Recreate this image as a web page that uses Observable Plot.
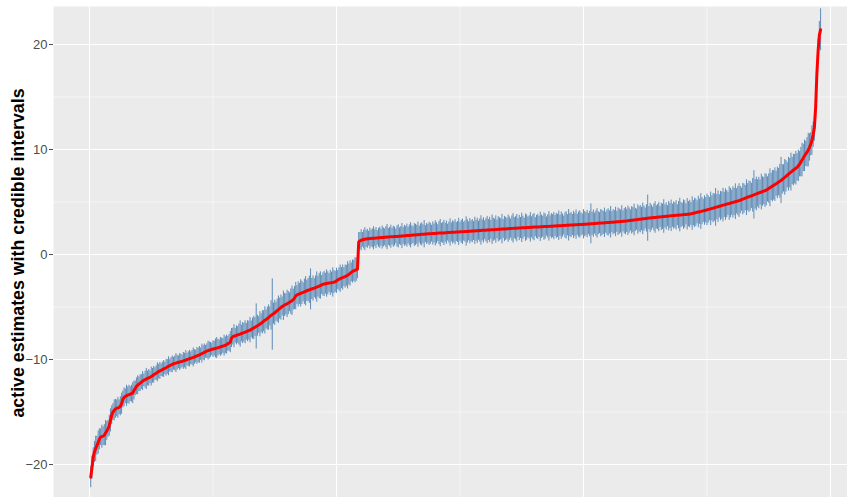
<!DOCTYPE html>
<html>
<head>
<meta charset="utf-8">
<script src="https://cdn.jsdelivr.net/npm/d3@7"></script>
<script src="https://cdn.jsdelivr.net/npm/@observablehq/plot@0.6"></script>
<style>
  html, body { margin: 0; padding: 0; background: white; }
</style>
</head>
<body>
<div id="chart"></div>
<script>
// Posterior estimates (sorted)
const est = [
-21.2,-20.3,-19.3,-18.8,-18.5,-18.2,-17.9,-17.6,-17.4,-17.35,
-17.3,-17.2,-17.0,-16.8,-16.6,-16.3,-15.8,-15.3,-15.0,-14.85,
-14.7,-14.65,-14.6,-14.55,-14.45,-14.2,-13.8,-13.6,-13.5,-13.45,
-13.4,-13.35,-13.3,-13.25,-13.2,-12.95,-12.75,-12.55,-12.45,-12.35,
-12.25,-12.15,-12.05,-11.98,-11.92,-11.85,-11.8,-11.75,-11.7,-11.62,
-11.55,-11.45,-11.38,-11.3,-11.22,-11.15,-11.08,-11.02,-10.96,-10.9,
-10.85,-10.78,-10.7,-10.64,-10.58,-10.52,-10.46,-10.4,-10.37,-10.34,
-10.3,-10.26,-10.23,-10.2,-10.17,-10.13,-10.1,-10.05,-10.0,-9.96,
-9.92,-9.88,-9.84,-9.8,-9.76,-9.71,-9.66,-9.61,-9.56,-9.5,
-9.44,-9.38,-9.32,-9.26,-9.2,-9.16,-9.12,-9.08,-9.04,-9.0,
-8.97,-8.94,-8.91,-8.88,-8.84,-8.8,-8.76,-8.72,-8.68,-8.64,
-8.58,-8.5,-8.42,-8.35,-7.95,-7.82,-7.78,-7.74,-7.7,-7.66,
-7.62,-7.57,-7.52,-7.48,-7.44,-7.4,-7.35,-7.3,-7.25,-7.2,
-7.13,-7.06,-6.99,-6.92,-6.85,-6.78,-6.71,-6.64,-6.55,-6.46,
-6.35,-6.27,-6.18,-6.1,-6.0,-5.9,-5.8,-5.72,-5.63,-5.55,
-5.45,-5.35,-5.25,-5.15,-5.05,-4.95,-4.88,-4.8,-4.75,-4.7,
-4.62,-4.55,-4.48,-4.4,-4.3,-4.15,-3.95,-3.85,-3.8,-3.75,
-3.7,-3.65,-3.6,-3.55,-3.5,-3.45,-3.4,-3.36,-3.32,-3.28,
-3.24,-3.2,-3.15,-3.1,-3.05,-3.0,-2.95,-2.9,-2.85,-2.8,
-2.78,-2.76,-2.74,-2.72,-2.7,-2.68,-2.66,-2.63,-2.6,-2.5,
-2.42,-2.36,-2.3,-2.25,-2.2,-2.15,-2.1,-2.03,-1.98,-1.9,
-1.8,-1.7,-1.62,-1.56,-1.5,-1.45,-1.4,1.2,1.3,1.36,
1.4,1.43,1.46,1.48,1.5,1.51,1.52,1.53,1.54,1.55,
1.56,1.57,1.58,1.59,1.6,1.61,1.62,1.63,1.64,1.65,
1.66,1.67,1.68,1.69,1.7,1.7,1.71,1.72,1.72,1.73,
1.74,1.75,1.76,1.77,1.78,1.79,1.8,1.81,1.82,1.83,
1.84,1.85,1.86,1.87,1.88,1.89,1.9,1.91,1.92,1.93,
1.94,1.95,1.96,1.97,1.97,1.98,1.99,2.0,2.01,2.01,
2.02,2.03,2.04,2.04,2.05,2.06,2.06,2.07,2.08,2.09,
2.09,2.1,2.11,2.11,2.12,2.13,2.14,2.14,2.15,2.16,
2.16,2.17,2.18,2.19,2.19,2.2,2.21,2.22,2.22,2.23,
2.24,2.25,2.26,2.26,2.27,2.28,2.29,2.3,2.3,2.31,
2.32,2.33,2.33,2.34,2.35,2.36,2.36,2.37,2.38,2.39,
2.4,2.4,2.41,2.42,2.43,2.43,2.44,2.45,2.46,2.47,
2.47,2.48,2.49,2.5,2.5,2.51,2.52,2.53,2.53,2.54,
2.55,2.56,2.56,2.57,2.58,2.58,2.59,2.59,2.6,2.61,
2.61,2.62,2.63,2.63,2.64,2.65,2.65,2.66,2.66,2.67,
2.68,2.68,2.69,2.7,2.7,2.71,2.72,2.72,2.73,2.74,
2.74,2.75,2.76,2.76,2.77,2.78,2.79,2.79,2.8,2.81,
2.81,2.82,2.83,2.84,2.84,2.85,2.86,2.86,2.87,2.88,
2.89,2.89,2.9,2.91,2.91,2.92,2.93,2.94,2.95,2.96,
2.97,2.98,2.99,2.99,3.0,3.01,3.02,3.03,3.04,3.05,
3.06,3.07,3.08,3.08,3.09,3.1,3.11,3.12,3.13,3.14,
3.15,3.16,3.17,3.18,3.2,3.21,3.23,3.24,3.26,3.27,
3.29,3.3,3.32,3.33,3.35,3.37,3.38,3.4,3.41,3.43,
3.44,3.46,3.47,3.48,3.5,3.51,3.52,3.53,3.54,3.56,
3.57,3.58,3.59,3.6,3.62,3.63,3.64,3.65,3.66,3.68,
3.69,3.7,3.71,3.72,3.73,3.74,3.75,3.76,3.77,3.78,
3.8,3.81,3.82,3.83,3.84,3.86,3.87,3.9,3.93,3.96,
3.99,4.02,4.05,4.08,4.1,4.13,4.16,4.19,4.22,4.25,
4.28,4.32,4.35,4.39,4.42,4.46,4.49,4.52,4.56,4.59,
4.62,4.66,4.7,4.73,4.76,4.8,4.83,4.86,4.9,4.93,
4.96,5.0,5.03,5.07,5.1,5.14,5.19,5.23,5.28,5.32,
5.37,5.41,5.46,5.5,5.55,5.59,5.64,5.68,5.73,5.77,
5.82,5.86,5.91,5.95,6.0,6.04,6.09,6.14,6.2,6.28,
6.36,6.44,6.51,6.59,6.66,6.74,6.82,6.9,6.98,7.05,
7.15,7.25,7.35,7.45,7.55,7.65,7.75,7.85,7.95,8.05,
8.13,8.22,8.3,8.45,8.6,8.8,9.0,9.2,9.4,9.58,
9.74,9.95,10.2,10.5,10.85,11.4,12.1,14.0,17.2,19.4,
20.9,21.4
];

// Half-width of each credible interval
const hw = [
1.0,1.1,0.9,1.0,1.2,0.9,1.1,1.0,0.8,1.1,
0.9,1.0,1.2,0.9,0.8,1.0,1.1,0.9,0.8,1.0,
0.9,0.8,1.0,0.7,0.9,1.0,0.8,0.9,0.7,1.0,
0.8,0.9,0.7,0.8,1.0,0.9,0.7,0.8,0.9,0.7,
0.8,0.7,0.9,0.6,0.8,1.0,0.7,0.8,0.6,0.9,
0.7,0.8,0.6,0.7,0.9,0.7,0.8,0.6,0.7,0.8,
0.6,0.8,0.7,0.9,0.6,0.7,0.8,0.6,0.7,0.9,
0.7,0.6,0.8,0.7,0.6,0.8,0.7,0.9,0.6,0.7,
0.8,0.6,0.7,0.9,0.7,0.6,0.8,0.7,0.8,0.6,
0.9,0.7,0.8,0.6,0.7,0.9,0.8,0.7,0.6,0.8,
0.7,0.9,1.0,0.8,0.7,0.9,0.8,0.7,1.0,0.8,
0.9,0.7,0.8,1.0,0.9,0.8,1.1,0.7,0.9,0.8,
1.0,1.25,0.8,1.0,0.9,1.1,0.8,1.0,0.9,1.2,
0.8,1.0,1.1,0.9,2.15,1.0,0.8,1.2,0.9,1.1,
1.0,1.3,0.9,1.1,1.2,0.9,1.4,3.4,1.0,1.2,
0.9,1.1,1.3,1.0,1.2,0.9,1.4,1.1,1.0,1.3,
1.1,0.9,1.2,1.4,1.0,1.1,1.3,0.9,1.2,1.0,
1.3,1.1,0.9,1.2,1.4,1.0,1.1,1.3,1.95,1.0,
1.2,0.9,1.1,1.45,1.0,1.2,1.3,0.9,1.1,1.2,
1.0,1.3,1.1,0.9,1.2,1.0,1.4,1.1,1.0,1.2,
0.9,1.1,1.3,1.0,1.2,0.9,1.1,1.0,1.3,1.0,
1.2,0.9,1.1,1.0,1.2,1.1,0.9,0.9,0.8,1.0,
0.7,0.9,1.1,0.8,0.9,0.7,1.0,0.8,0.9,1.1,
0.8,1.0,0.7,0.9,1.0,0.8,1.1,0.9,0.8,1.0,
1.2,0.8,0.9,1.1,0.8,1.0,0.9,0.7,1.0,1.1,
0.8,0.9,1.2,0.8,1.0,0.9,1.1,0.8,1.0,1.2,
0.9,0.8,1.1,1.0,0.9,1.2,0.8,1.0,1.1,0.9,
1.3,0.8,1.0,0.9,1.1,1.0,0.8,1.1,0.9,1.2,
1.0,0.8,1.1,1.3,0.9,1.0,1.2,0.9,1.1,0.8,
1.0,1.3,0.9,1.1,1.0,1.2,0.9,1.0,1.3,0.9,
1.1,1.2,0.9,1.0,1.4,1.1,0.9,1.2,1.0,1.1,
0.9,1.3,1.0,1.2,0.9,1.1,1.4,1.0,1.2,0.9,
1.1,1.3,1.0,1.2,0.9,1.4,1.1,1.0,1.3,0.9,
1.2,1.1,1.0,1.4,0.9,1.2,1.1,1.0,1.3,1.1,
0.9,1.2,1.4,1.0,1.1,1.3,0.9,1.2,1.0,1.4,
1.1,0.9,1.3,1.2,1.0,1.1,1.4,1.0,1.2,1.3,
0.9,1.1,1.2,1.0,1.4,1.1,1.0,1.3,1.2,0.9,
1.1,1.4,1.0,1.2,1.1,1.3,1.0,1.2,1.1,1.4,
1.0,1.3,1.1,0.9,1.2,1.3,1.0,1.5,1.1,1.2,
1.0,1.3,1.1,1.4,1.0,1.2,1.3,1.1,1.0,1.4,
1.2,1.1,1.3,1.0,1.2,1.9,1.1,1.3,1.0,1.2,
1.4,1.1,1.0,1.3,1.2,1.1,1.4,1.0,1.2,1.3,
1.1,1.5,1.0,1.2,1.1,1.4,1.0,1.3,1.2,1.1,
1.5,1.0,1.2,1.3,1.1,1.4,1.2,1.0,1.3,1.2,
1.5,1.1,1.0,1.4,1.2,1.3,1.1,1.5,1.2,1.0,
1.3,2.2,1.1,1.4,1.2,1.0,1.3,1.5,1.1,1.2,
1.4,1.0,1.3,1.2,1.6,1.1,1.3,1.0,1.4,1.2,
1.5,1.1,1.3,1.2,1.4,1.0,1.3,1.6,1.2,1.1,
1.4,1.3,1.0,1.5,1.2,1.3,1.1,1.6,1.2,1.4,
1.3,1.1,1.5,1.2,1.7,1.3,1.1,1.4,1.2,1.5,
1.3,1.1,1.6,1.2,1.4,1.3,1.8,1.2,1.5,1.1,
1.4,1.3,1.6,1.2,1.5,1.3,1.1,1.6,1.4,1.2,
1.5,1.3,1.7,1.2,1.4,1.6,1.3,1.1,1.5,1.4,
1.2,1.7,1.3,1.5,1.4,1.2,1.6,2.3,1.4,1.6,
1.3,1.5,1.2,1.7,1.4,1.3,1.6,1.5,1.2,1.4,
1.8,1.3,1.5,1.4,1.6,1.2,1.5,1.3,1.6,2.2,
1.4,1.3,1.7,1.5,1.2,1.6,1.4,1.8,1.3,1.5,
1.4,1.6,1.3,1.5,1.2,1.4,1.6,1.3,1.5,1.2,
1.4,1.6,1.3,1.1,1.4,1.2,1.3,1.0,1.2,1.1,
1.3,2.0
];

const yMajor = [-20, -10, 0, 10, 20];
const yMinor = [-15, -5, 5, 15];
const xMajor = [0, 200, 400, 600];
const xMinor = [100, 300, 500];
const yTitle = "active estimates with credible intervals";

const data = est.map((e, k) => ({ i: k + 1, est: e, lo: e - hw[k], hi: e + hw[k] }));

const chart = Plot.plot({
  width: 847,
  height: 497,
  marginLeft: 53,
  marginRight: 0,
  marginTop: 6,
  marginBottom: 0,
  x: { domain: [-29.15, 613.8], axis: null },
  y: { domain: [-23.14, 23.62] },
  style: { fontFamily: "'Liberation Sans', Arial, sans-serif", background: "white", overflow: "visible" },
  marks: [
    Plot.frame({ fill: "#EBEBEB", stroke: "none" }),
    Plot.gridY(yMinor, { stroke: "white", strokeOpacity: 1, strokeWidth: 0.55 }),
    Plot.gridX(xMinor, { stroke: "white", strokeOpacity: 1, strokeWidth: 0.55 }),
    Plot.gridY(yMajor, { stroke: "white", strokeOpacity: 1, strokeWidth: 1.1 }),
    Plot.gridX(xMajor, { stroke: "white", strokeOpacity: 1, strokeWidth: 1.1 }),
    Plot.ruleX(data, { x: "i", y1: "lo", y2: "hi", stroke: "#3A73AB", strokeWidth: 0.8, strokeOpacity: 1 }),
    Plot.line(data, { x: "i", y: "est", stroke: "#FF0000", strokeWidth: 3 }),
    Plot.axisY(yMajor, { tickSize: 4, tickPadding: 2, fontSize: 13, color: "#4D4D4D", label: null })
  ]
});

document.getElementById("chart").appendChild(chart);

d3.select(chart)
  .append("text")
  .attr("transform", "translate(18,253) rotate(-90)")
  .attr("text-anchor", "middle")
  .attr("dominant-baseline", "central")
  .attr("font-family", "'Liberation Sans', Arial, sans-serif")
  .attr("font-size", 17.8)
  .attr("font-weight", "bold")
  .attr("fill", "#000000")
  .text(yTitle);
</script>
</body>
</html>
